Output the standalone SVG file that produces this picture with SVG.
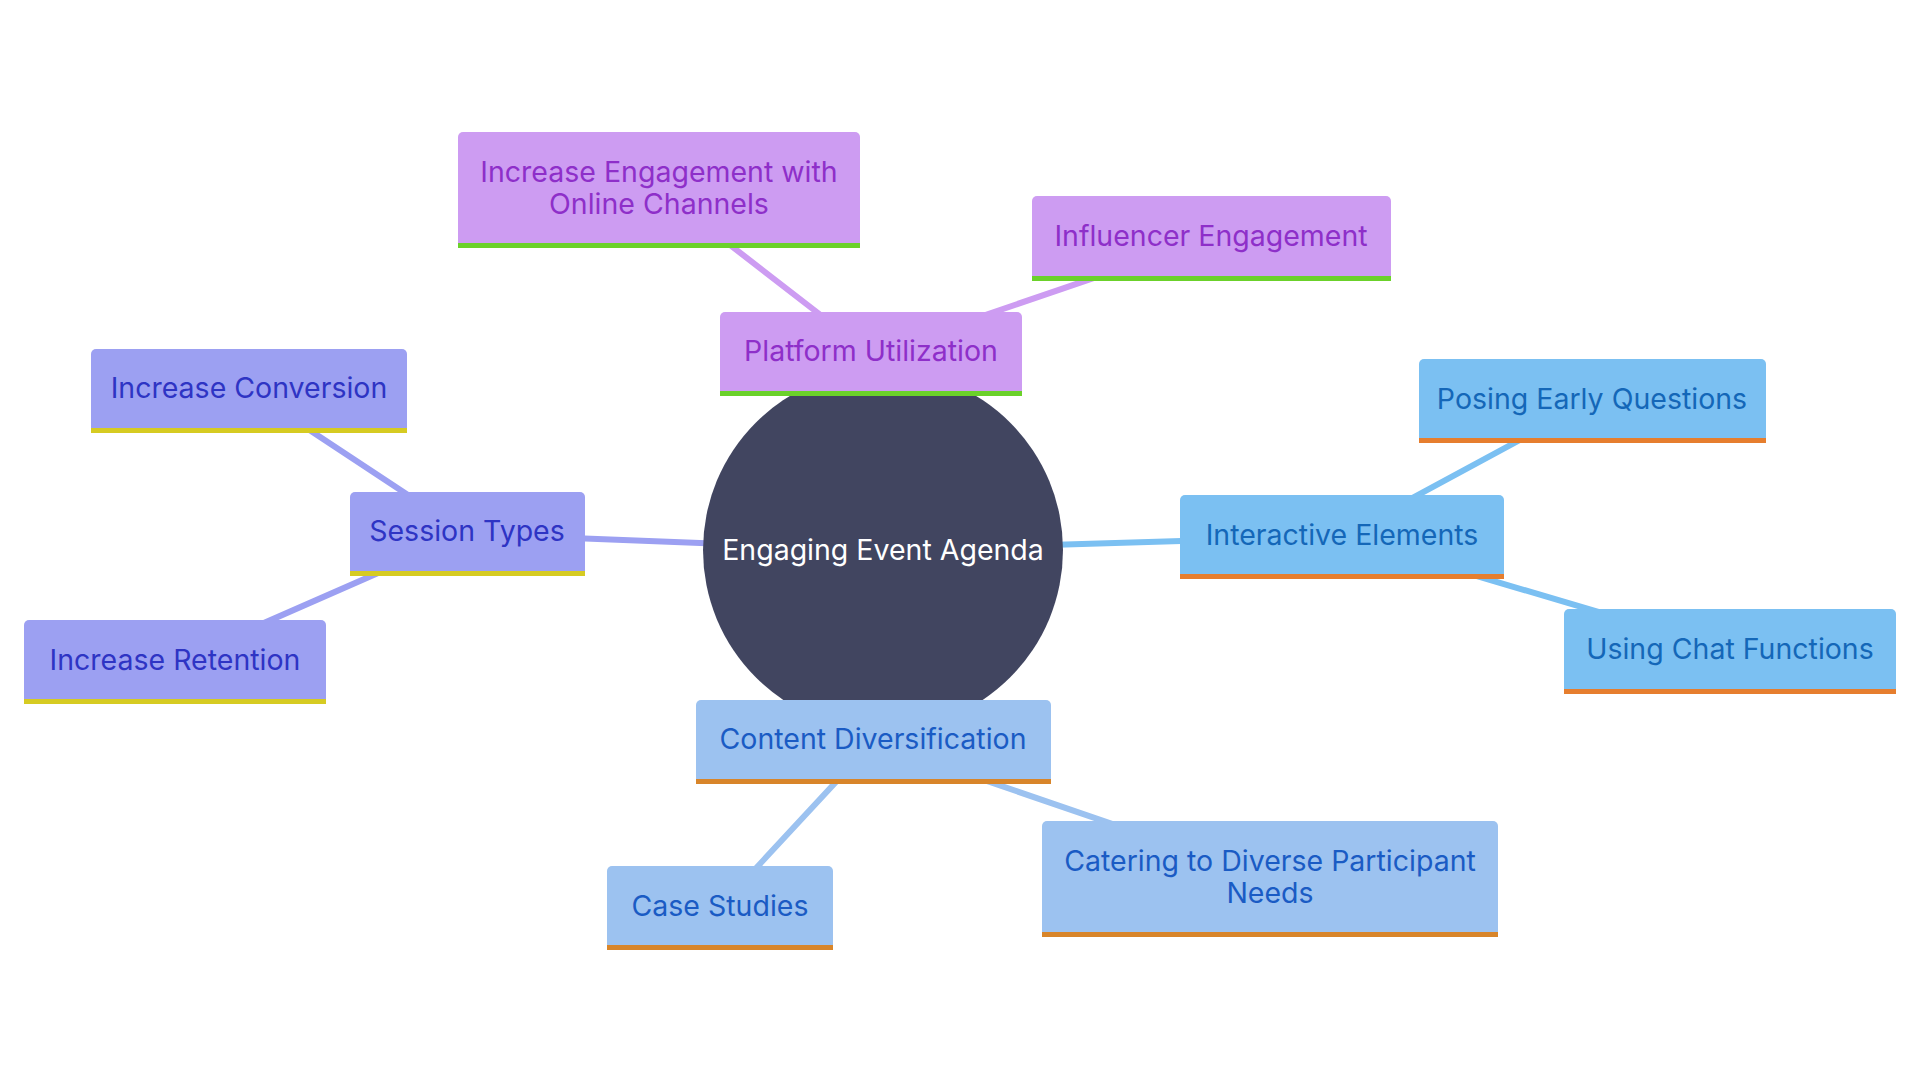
<svg xmlns="http://www.w3.org/2000/svg" width="1920" height="1080" viewBox="0 0 1920 1080">
<style>
text{font-family:Inter,"Noto Sans","Liberation Sans",sans-serif;font-size:28.5px;text-anchor:middle}
.e{fill:none;stroke-width:6;stroke-linecap:round}
.pu{fill:#CD9CF2}.pu-t{fill:#8E2FC9}.pu-b{fill:#6BD12A}
.st{fill:#9CA0F2}.st-t{fill:#2E34C4}.st-b{fill:#D6CB22}
.ie{fill:#7BC0F2}.ie-t{fill:#1467B8}.ie-b{fill:#E67E2E}
.cd{fill:#9CC2F0}.cd-t{fill:#1A5BC4}.cd-b{fill:#D8852A}
</style>
<rect width="1920" height="1080" fill="#fff"/>
<g id="connectors">
<line class="e" x1="883" y1="550" x2="871" y2="354" stroke="#CD9CF2"/>
<line class="e" x1="871" y1="354" x2="659" y2="190" stroke="#CD9CF2"/>
<line class="e" x1="871" y1="354" x2="1211" y2="238" stroke="#CD9CF2"/>
<line class="e" x1="883" y1="550" x2="467" y2="534" stroke="#9CA0F2"/>
<line class="e" x1="467" y1="534" x2="249" y2="390" stroke="#9CA0F2"/>
<line class="e" x1="467" y1="534" x2="175" y2="662" stroke="#9CA0F2"/>
<line class="e" x1="883" y1="550" x2="1342" y2="536" stroke="#7BC0F2"/>
<line class="e" x1="1342" y1="536" x2="1592" y2="401" stroke="#7BC0F2"/>
<line class="e" x1="1342" y1="536" x2="1730" y2="651" stroke="#7BC0F2"/>
<line class="e" x1="883" y1="550" x2="873" y2="742" stroke="#9CC2F0"/>
<line class="e" x1="873" y1="742" x2="720" y2="907" stroke="#9CC2F0"/>
<line class="e" x1="873" y1="742" x2="1270" y2="878" stroke="#9CC2F0"/>
</g>
<g id="center">
<circle cx="883" cy="550" r="180" fill="#414560"/>
<text x="883" y="560" fill="#fff">Engaging Event Agenda</text>
</g>
<g id="platform">
<path class="pu" d="M720,396 V317 a5,5 0 0 1 5,-5 H1017 a5,5 0 0 1 5,5 V396 Z"/>
<rect class="pu-b" x="720" y="391" width="302" height="5"/>
<text class="pu-t" x="871" y="361">Platform Utilization</text>
</g>
<g id="online">
<path class="pu" d="M458,248 V137 a5,5 0 0 1 5,-5 H855 a5,5 0 0 1 5,5 V248 Z"/>
<rect class="pu-b" x="458" y="243" width="402" height="5"/>
<text class="pu-t" x="659" y="182">Increase Engagement with</text>
<text class="pu-t" x="659" y="214">Online Channels</text>
</g>
<g id="influencer">
<path class="pu" d="M1032,281 V201 a5,5 0 0 1 5,-5 H1386 a5,5 0 0 1 5,5 V281 Z"/>
<rect class="pu-b" x="1032" y="276" width="359" height="5"/>
<text class="pu-t" x="1211" y="246">Influencer Engagement</text>
</g>
<g id="session">
<path class="st" d="M350,576 V497 a5,5 0 0 1 5,-5 H580 a5,5 0 0 1 5,5 V576 Z"/>
<rect class="st-b" x="350" y="571" width="235" height="5"/>
<text class="st-t" x="467" y="541">Session Types</text>
</g>
<g id="conversion">
<path class="st" d="M91,433 V354 a5,5 0 0 1 5,-5 H402 a5,5 0 0 1 5,5 V433 Z"/>
<rect class="st-b" x="91" y="428" width="316" height="5"/>
<text class="st-t" x="249" y="398">Increase Conversion</text>
</g>
<g id="retention">
<path class="st" d="M24,704 V625 a5,5 0 0 1 5,-5 H321 a5,5 0 0 1 5,5 V704 Z"/>
<rect class="st-b" x="24" y="699" width="302" height="5"/>
<text class="st-t" x="175" y="670">Increase Retention</text>
</g>
<g id="interactive">
<path class="ie" d="M1180,579 V500 a5,5 0 0 1 5,-5 H1499 a5,5 0 0 1 5,5 V579 Z"/>
<rect class="ie-b" x="1180" y="574" width="324" height="5"/>
<text class="ie-t" x="1342" y="545">Interactive Elements</text>
</g>
<g id="posing">
<path class="ie" d="M1419,443 V364 a5,5 0 0 1 5,-5 H1761 a5,5 0 0 1 5,5 V443 Z"/>
<rect class="ie-b" x="1419" y="438" width="347" height="5"/>
<text class="ie-t" x="1592" y="409">Posing Early Questions</text>
</g>
<g id="chat">
<path class="ie" d="M1564,694 V614 a5,5 0 0 1 5,-5 H1891 a5,5 0 0 1 5,5 V694 Z"/>
<rect class="ie-b" x="1564" y="689" width="332" height="5"/>
<text class="ie-t" x="1730" y="659">Using Chat Functions</text>
</g>
<g id="content">
<path class="cd" d="M696,784 V705 a5,5 0 0 1 5,-5 H1046 a5,5 0 0 1 5,5 V784 Z"/>
<rect class="cd-b" x="696" y="779" width="355" height="5"/>
<text class="cd-t" x="873" y="749">Content Diversification</text>
</g>
<g id="case">
<path class="cd" d="M607,950 V871 a5,5 0 0 1 5,-5 H828 a5,5 0 0 1 5,5 V950 Z"/>
<rect class="cd-b" x="607" y="945" width="226" height="5"/>
<text class="cd-t" x="720" y="916">Case Studies</text>
</g>
<g id="catering">
<path class="cd" d="M1042,937 V826 a5,5 0 0 1 5,-5 H1493 a5,5 0 0 1 5,5 V937 Z"/>
<rect class="cd-b" x="1042" y="932" width="456" height="5"/>
<text class="cd-t" x="1270" y="871">Catering to Diverse Participant</text>
<text class="cd-t" x="1270" y="903">Needs</text>
</g>
</svg>
